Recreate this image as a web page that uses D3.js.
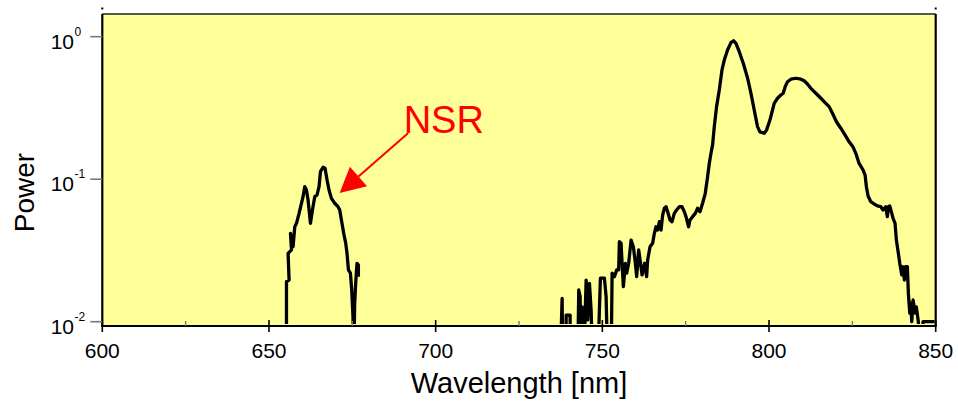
<!DOCTYPE html>
<html>
<head>
<meta charset="utf-8">
<script src="https://cdn.jsdelivr.net/npm/d3@7"></script>
<style>
body { margin: 0; background: #fff; }
text { font-family: "Liberation Sans", Arial, Helvetica, sans-serif; }
</style>
</head>
<body>
<div id="chart"></div>
<script>
const WIDTH = 958, HEIGHT = 409;
const MARGIN = { top: 14, right: 22.3, bottom: 83, left: 102.3 };
const PLOT_W = WIDTH - MARGIN.left - MARGIN.right, PLOT_H = HEIGHT - MARGIN.top - MARGIN.bottom;

// spectrum near the NSR band
const wavelengthNSR = [655.25, 655.25, 656.03, 655.73, 656.75, 656.45, 657.23, 657.74, 658.25, 659.03,
  659.74, 660.22, 660.73, 661.24, 661.72, 662.44, 663.04, 663.73, 664.42, 665.02,
  665.44, 666.22, 666.82, 667.42, 668.01, 668.73, 669.72, 670.71, 671.22, 671.73,
  672.42, 673.02, 673.41, 673.83, 674.43, 674.82, 675.20, 675.41, 675.71, 676.01,
  676.40, 676.82, 676.82];
const powerNSR = [0.005, 0.0191, 0.0196, 0.0302, 0.0319, 0.0417, 0.0336, 0.0464, 0.0490, 0.0576,
  0.0678, 0.0754, 0.0886, 0.0840, 0.0715, 0.0490, 0.0608, 0.0754, 0.0775, 0.0886,
  0.1129, 0.1212, 0.1193, 0.0987, 0.0840, 0.0734, 0.0678, 0.0641, 0.0608, 0.0517,
  0.0417, 0.0355, 0.0302, 0.0231, 0.0219, 0.0167, 0.01084, 0.005, 0.01346, 0.0186,
  0.0257, 0.0250, 0.0207];

// main spectrum
const wavelengthMain = [737.35, 737.94, 738.12, 739.14, 739.14, 740.34, 740.34, 742.62, 742.92, 743.34,
  743.64, 743.94, 744.42, 745.14, 745.62, 746.13, 746.63, 747.11, 748.61, 749.42,
  750.62, 751.13, 751.61, 752.63, 752.93, 753.62, 754.31, 754.90, 755.11, 755.62,
  755.92, 756.31, 756.91, 757.30, 757.90, 758.62, 759.31, 759.91, 760.30, 760.90,
  761.32, 761.92, 762.69, 763.29, 763.59, 764.31, 765.09, 765.60, 766.11, 766.59,
  767.10, 767.61, 768.09, 768.60, 769.11, 769.59, 770.31, 770.90, 771.59, 772.28,
  773.09, 773.90, 774.59, 775.10, 775.88, 776.30, 777.08, 777.89, 778.58, 779.29,
  780.07, 780.88, 781.57, 782.08, 782.59, 783.07, 783.58, 784.27, 785.08, 785.89,
  786.58, 787.56, 788.58, 789.36, 790.08, 791.07, 792.27, 793.56, 794.58, 795.56,
  796.55, 797.27, 798.56, 799.25, 800.27, 801.05, 801.56, 802.55, 803.56, 804.25,
  804.85, 805.54, 806.56, 808.06, 809.55, 810.54, 811.53, 812.55, 814.05, 815.55,
  817.04, 818.03, 819.02, 820.22, 821.54, 822.83, 824.03, 825.22, 826.03, 827.02,
  828.22, 828.82, 829.21, 829.72, 830.53, 831.52, 832.51, 833.53, 834.21, 835.02,
  835.50, 835.80, 836.22, 836.82, 837.21, 837.81, 838.20, 838.80, 839.22, 839.82,
  840.21, 840.60, 841.02, 841.50, 841.80, 842.22, 842.52, 842.82, 843.21, 843.81,
  844.19, 844.79, 845.51, 846.20, 849.64];
const powerMain = [0.005, 0.0146, 0.005, 0.005, 0.0111, 0.0111, 0.005, 0.005, 0.0167, 0.0150,
  0.005, 0.0127, 0.005, 0.0196, 0.0103, 0.0186, 0.0121, 0.005, 0.005, 0.0202,
  0.0202, 0.0150, 0.005, 0.005, 0.0219, 0.0207, 0.0231, 0.0231, 0.0364, 0.0355,
  0.0257, 0.0176, 0.0257, 0.0219, 0.0257, 0.0374, 0.0336, 0.0257, 0.0207, 0.0319,
  0.0271, 0.0213, 0.0257, 0.0207, 0.0271, 0.0336, 0.0355, 0.0417, 0.0464, 0.0440,
  0.0503, 0.0440, 0.0561, 0.0625, 0.0641, 0.0591, 0.0517, 0.0503, 0.0576, 0.0608,
  0.0641, 0.0641, 0.0591, 0.0546, 0.0464, 0.0517, 0.0546, 0.0576, 0.0625, 0.0591,
  0.0678, 0.0796, 0.104, 0.129, 0.152, 0.174, 0.234, 0.323, 0.423, 0.584,
  0.686, 0.807, 0.908, 0.937, 0.899, 0.785, 0.651, 0.513, 0.401, 0.306,
  0.234, 0.215, 0.210, 0.221, 0.260, 0.306, 0.341, 0.370, 0.390, 0.401,
  0.446, 0.483, 0.503, 0.511, 0.503, 0.491, 0.466, 0.434, 0.401, 0.370,
  0.341, 0.323, 0.290, 0.253, 0.228, 0.204, 0.183, 0.168, 0.152, 0.129,
  0.116, 0.107, 0.0886, 0.0762, 0.0695, 0.0670, 0.0649, 0.0641, 0.0608, 0.0641,
  0.0546, 0.0641, 0.0649, 0.0576, 0.0532, 0.0490, 0.0374, 0.0302, 0.0257, 0.0213,
  0.0243, 0.0196, 0.0243, 0.0243, 0.0158, 0.0115, 0.0135, 0.0100, 0.0142, 0.0115,
  0.0127, 0.0100, 0.005, 0.0100, 0.0100];

const xTicks = [600, 650, 700, 750, 800, 850];
const xMinorTicks = [625, 675, 725, 775, 825];
const yTicks = [1, 0.1, 0.01];
const yTickExp = ["0", "-1", "-2"];
const nsrLabel = { text: "NSR", x: 690.4, y: 0.211, fromX: 691.7, fromY: 0.21, toX: 671.2, toY: 0.080 };

const BG = "#ffff99";

const svg = d3.select("#chart").append("svg")
  .attr("width", WIDTH).attr("height", HEIGHT);

const x = d3.scaleLinear().domain([600, 850]).range([MARGIN.left, MARGIN.left + PLOT_W]);
const y = d3.scaleLog().domain([0.00933, 1.443]).range([MARGIN.top + PLOT_H, MARGIN.top]);

svg.append("rect")
  .attr("x", MARGIN.left).attr("y", MARGIN.top)
  .attr("width", PLOT_W).attr("height", PLOT_H)
  .attr("fill", BG);

svg.append("clipPath").attr("id", "plot-clip")
  .append("rect")
  .attr("x", MARGIN.left).attr("y", MARGIN.top)
  .attr("width", PLOT_W).attr("height", PLOT_H - 2);

const line = d3.line()
  .x(d => x(d[0]))
  .y(d => y(d[1]));

function DrawSpectrum(wl, p) {
  svg.append("path")
    .datum(wl.map((w, i) => [w, p[i]]))
    .attr("clip-path", "url(#plot-clip)")
    .attr("d", line)
    .attr("fill", "none")
    .attr("stroke", "#000")
    .attr("stroke-width", 3.3)
    .attr("stroke-linejoin", "round");
}
DrawSpectrum(wavelengthNSR, powerNSR);
DrawSpectrum(wavelengthMain, powerMain);

// frame
const bottomY = MARGIN.top + PLOT_H, rightX = MARGIN.left + PLOT_W;
svg.append("line").attr("x1", MARGIN.left).attr("x2", rightX).attr("y1", MARGIN.top).attr("y2", MARGIN.top)
  .attr("stroke", "#222").attr("stroke-width", 1.5);
svg.append("line").attr("x1", rightX).attr("x2", rightX).attr("y1", MARGIN.top).attr("y2", bottomY)
  .attr("stroke", "#000").attr("stroke-width", 2.2);
svg.append("line").attr("x1", MARGIN.left).attr("x2", MARGIN.left).attr("y1", MARGIN.top).attr("y2", bottomY + 1)
  .attr("stroke", "#000").attr("stroke-width", 2.2);
svg.append("line").attr("x1", MARGIN.left - 1).attr("x2", rightX + 1).attr("y1", bottomY).attr("y2", bottomY)
  .attr("stroke", "#000").attr("stroke-width", 2.2);

// small marks above the frame corners
[MARGIN.left, rightX].forEach(cx => {
  svg.append("rect").attr("x", cx - 1).attr("y", 7.5).attr("width", 2).attr("height", 2).attr("fill", "#000");
});

// x ticks
svg.selectAll("line.xmajor").data(xTicks).enter().append("line")
  .attr("class", "xmajor")
  .attr("x1", d => x(d)).attr("x2", d => x(d))
  .attr("y1", bottomY - 6).attr("y2", bottomY + 6)
  .attr("stroke", "#000").attr("stroke-width", 1.6);
svg.selectAll("line.xminor").data(xMinorTicks).enter().append("line")
  .attr("class", "xminor")
  .attr("x1", d => x(d)).attr("x2", d => x(d))
  .attr("y1", bottomY - 5).attr("y2", bottomY)
  .attr("stroke", "#777").attr("stroke-width", 1.4);
svg.selectAll("text.xlabel").data(xTicks).enter().append("text")
  .attr("class", "xlabel")
  .attr("x", d => x(d)).attr("y", bottomY + 32)
  .attr("text-anchor", "middle")
  .attr("font-size", 21)
  .attr("fill", "#000")
  .text(d => d);

// y ticks
svg.selectAll("line.ytick").data(yTicks).enter().append("line")
  .attr("class", "ytick")
  .attr("x1", MARGIN.left - 12).attr("x2", MARGIN.left)
  .attr("y1", d => y(d)).attr("y2", d => y(d))
  .attr("stroke", "#777").attr("stroke-width", 1.6);
const yLab = svg.selectAll("g.ylabel").data(yTicks).enter().append("g")
  .attr("class", "ylabel")
  .attr("transform", d => `translate(0,${y(d)})`);
yLab.append("text")
  .attr("x", 74).attr("y", 12)
  .attr("text-anchor", "end")
  .attr("font-size", 21)
  .attr("fill", "#000")
  .text("10");
yLab.append("text")
  .attr("x", 74.5).attr("y", -1)
  .attr("font-size", 12)
  .attr("fill", "#000")
  .text((d, i) => yTickExp[i]);

// axis titles
svg.append("text")
  .attr("x", (MARGIN.left + rightX) / 2).attr("y", 393)
  .attr("text-anchor", "middle")
  .attr("font-size", 29)
  .attr("fill", "#000")
  .text("Wavelength [nm]");
svg.append("text")
  .attr("transform", "translate(34,192.5) rotate(-90)")
  .attr("text-anchor", "middle")
  .attr("font-size", 28)
  .attr("fill", "#000")
  .text("Power");

// NSR annotation
const tipX = x(nsrLabel.toX), tipY = y(nsrLabel.toY);
const fx = x(nsrLabel.fromX), fy = y(nsrLabel.fromY);
const ang = Math.atan2(tipY - fy, tipX - fx);
const headLen = 25, headHalf = 13;
const bx = tipX - headLen * Math.cos(ang), by = tipY - headLen * Math.sin(ang);
svg.append("line")
  .attr("x1", fx).attr("y1", fy).attr("x2", bx).attr("y2", by)
  .attr("stroke", "#ff0000").attr("stroke-width", 2);
svg.append("path")
  .attr("d", `M${tipX},${tipY}L${bx + headHalf * Math.sin(ang)},${by - headHalf * Math.cos(ang)}L${bx - headHalf * Math.sin(ang)},${by + headHalf * Math.cos(ang)}Z`)
  .attr("fill", "#ff0000");
svg.append("text")
  .attr("x", x(nsrLabel.x)).attr("y", y(nsrLabel.y))
  .attr("font-size", 38)
  .attr("fill", "#ff0000")
  .text(nsrLabel.text);
</script>
</body>
</html>
